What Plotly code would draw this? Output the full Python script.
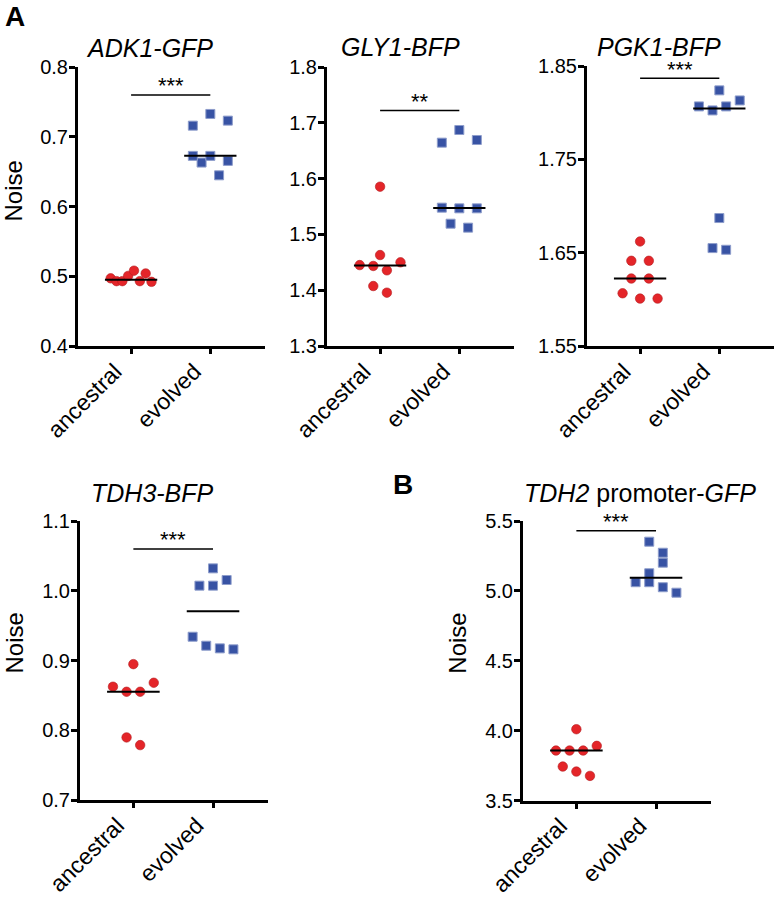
import numpy as np
import plotly.graph_objects as go

W, H = 777, 901
FONT = "Liberation Sans, Arial, Helvetica, sans-serif"

categories = ["ancestral", "evolved"]

# values, listed left-to-right within each horizontal row of the scatter
adk1_ancestral = [0.497, 0.493, 0.493, 0.5005, 0.508, 0.493, 0.504, 0.492]
adk1_evolved = [0.663, 0.6447, 0.6726, 0.6726, 0.6654, 0.7159, 0.7327, 0.7231]
gly1_ancestral = [1.4075, 1.3956, 1.445, 1.4434, 1.4356, 1.450, 1.463, 1.5855]
gly1_evolved = [1.5192, 1.5121, 1.5479, 1.5467, 1.5467, 1.6644, 1.6871, 1.6692]
pgk1_ancestral = [1.6065, 1.6008, 1.6008, 1.6223, 1.6223, 1.6413, 1.6413, 1.662]
pgk1_evolved = [1.6549, 1.6531, 1.6871, 1.8067, 1.8024, 1.8067, 1.8131, 1.8239]
tdh3_ancestral = [0.7897, 0.7787, 0.8624, 0.8552, 0.8552, 0.8681, 0.8948]
tdh3_evolved = [0.9341, 0.9212, 0.9174, 0.916, 1.0073, 1.0073, 1.0154, 1.0321]
tdh2_ancestral = [3.743, 3.707, 3.676, 3.8575, 3.8575, 3.8575, 3.891, 4.01]
tdh2_evolved = [5.062, 5.062, 5.026, 4.987, 5.126, 5.202, 5.352, 5.273]

adk1_ticks = [0.4, 0.5, 0.6, 0.7, 0.8]
gly1_ticks = [1.3, 1.4, 1.5, 1.6, 1.7, 1.8]
pgk1_ticks = [1.55, 1.65, 1.75, 1.85]
tdh3_ticks = [0.7, 0.8, 0.9, 1.0, 1.1]
tdh2_ticks = [3.5, 4.0, 4.5, 5.0, 5.5]

titles = ["<i>ADK1-GFP</i>", "<i>GLY1-BFP</i>", "<i>PGK1-BFP</i>",
          "<i>TDH3-BFP</i>", "<i>TDH2</i> promoter-<i>GFP</i>"]
stars = ["***", "**", "***", "***", "***"]

# layout config (pixel boxes of each plot area, significance bar level, text spots)
panels = [
    dict(anc=adk1_ancestral, evo=adk1_evolved, ticks=adk1_ticks, fmt=".1f",
         box=(78, 265, 67, 346), sig=0.76, title_xy=(149, 48), noise_xy=(12.5, 191)),
    dict(anc=gly1_ancestral, evo=gly1_evolved, ticks=gly1_ticks, fmt=".1f",
         box=(327, 514, 67, 346), sig=1.722, title_xy=(400, 47), noise_xy=None),
    dict(anc=pgk1_ancestral, evo=pgk1_evolved, ticks=pgk1_ticks, fmt=".2f",
         box=(587, 774, 66, 346), sig=1.837, title_xy=(659, 47), noise_xy=None),
    dict(anc=tdh3_ancestral, evo=tdh3_evolved, ticks=tdh3_ticks, fmt=".1f",
         box=(80, 268, 521, 800), sig=1.06, title_xy=(152.5, 493), noise_xy=(13.5, 643)),
    dict(anc=tdh2_ancestral, evo=tdh2_evolved, ticks=tdh2_ticks, fmt=".1f",
         box=(523, 711, 521, 800.5), sig=5.43, title_xy=(640, 493), noise_xy=(456.7, 643)),
]
letters = [("A", 15, 17), ("B", 403, 484)]

XR = [-0.67, 1.69]
RED, RED_EDGE = "#E42529", "#B41C20"
BLUE, BLUE_EDGE = "#3853A4", "#8E9DCB"


def px(x, y):
    return x / W, 1 - y / H


def swarm_offsets(values, ppu_y, ppu_x, row_px=13.5, max_step=17.5, span=40.8):
    v = np.asarray(values, dtype=float)
    order = np.argsort(v, kind="stable")
    rows, cur, start = [], [], None
    for i in order:
        if start is None or (v[i] - start) * ppu_y > row_px:
            if cur:
                rows.append(cur)
            cur, start = [i], v[i]
        else:
            cur.append(i)
    rows.append(cur)
    maxrow = max(len(r) for r in rows)
    step = max_step if maxrow < 2 else min(max_step, span / (maxrow - 1))
    off = np.zeros(len(v))
    for r in rows:
        r = sorted(r)
        k = len(r)
        for j, i in enumerate(r):
            off[i] = (j - (k - 1) / 2) * step / ppu_x
    return off


fig = go.Figure()
fig.update_layout(template="none")
shapes, annotations = [], []

for n, p in enumerate(panels, start=1):
    x0, x1, y0, y1 = p["box"]
    yr = [p["ticks"][0], p["ticks"][-1]]
    ppu_x = (x1 - x0) / (XR[1] - XR[0])
    ppu_y = (y1 - y0) / (yr[1] - yr[0])
    xa, ya = f"x{n}", f"y{n}"
    for ci, (vals, col, edge, sym, ew) in enumerate([
            (p["anc"], RED, RED_EDGE, "circle", 0.6),
            (p["evo"], BLUE, BLUE_EDGE, "square", 1.0)]):
        off = swarm_offsets(vals, ppu_y, ppu_x)
        fig.add_trace(go.Scatter(
            x=ci + off, y=vals, mode="markers", xaxis=xa, yaxis=ya,
            marker=dict(symbol=sym, size=9.5 if sym == "circle" else 9, color=col,
                        line=dict(color=edge, width=ew)),
            hoverinfo="skip", showlegend=False))
        med = float(np.median(vals))
        shapes.append(dict(type="line", xref=xa, yref=ya, x0=ci - 0.33, x1=ci + 0.33,
                           y0=med, y1=med, line=dict(color="black", width=2)))
    shapes.append(dict(type="line", xref=xa, yref=ya, x0=0, x1=1, y0=p["sig"], y1=p["sig"],
                       line=dict(color="black", width=1.5)))
    annotations.append(dict(x=0.5, y=p["sig"], xref=xa, yref=ya, text=stars[n - 1],
                            showarrow=False, yanchor="middle", yshift=9,
                            font=dict(size=22, color="black", family=FONT)))
    tx, ty = px(*p["title_xy"])
    annotations.append(dict(x=tx, y=ty, xref="paper", yref="paper", text=titles[n - 1],
                            showarrow=False, xanchor="center", yanchor="middle",
                            font=dict(size=25, color="black", family=FONT)))
    if p["noise_xy"]:
        nx, ny = px(*p["noise_xy"])
        annotations.append(dict(x=nx, y=ny, xref="paper", yref="paper", text="Noise",
                                textangle=-90, showarrow=False, xanchor="center",
                                yanchor="middle",
                                font=dict(size=24, color="black", family=FONT)))
    dx0, _ = px(x0, 0)
    dx1, _ = px(x1, 0)
    _, dy0 = px(0, y1)
    _, dy1 = px(0, y0)
    fig.layout[f"xaxis{n}"] = dict(
        domain=[dx0, dx1], anchor=ya, range=XR, showline=True, linecolor="black",
        linewidth=3, ticks="outside", ticklen=5, tickwidth=2.5, tickcolor="black",
        tickvals=[0, 1], ticktext=categories, tickangle=-45, showgrid=False,
        zeroline=False, tickfont=dict(size=23, color="black", family=FONT),
        ticklabelshift=-16, ticklabelstandoff=-5,
        fixedrange=True, automargin=False)
    fig.layout[f"yaxis{n}"] = dict(
        domain=[dy0, dy1], anchor=xa, range=yr, showline=True, linecolor="black",
        linewidth=3, ticks="outside", ticklen=6, tickwidth=2.5, tickcolor="black",
        tickvals=p["ticks"], tickformat=p["fmt"], showgrid=False, zeroline=False,
        tickfont=dict(size=20, color="black", family=FONT), ticklabelstandoff=-3,
        fixedrange=True, automargin=False)

for t, lx, ly in letters:
    ax_, ay_ = px(lx, ly)
    annotations.append(dict(x=ax_, y=ay_, xref="paper", yref="paper", text=f"<b>{t}</b>",
                            showarrow=False, xanchor="center", yanchor="middle",
                            font=dict(size=28, color="black", family=FONT)))

fig.update_layout(width=W, height=H, margin=dict(l=0, r=0, t=0, b=0, pad=0),
                  paper_bgcolor="white", plot_bgcolor="white", showlegend=False,
                  font=dict(family=FONT, color="black"),
                  shapes=shapes, annotations=annotations)

fig.write_html("out.html", config={"displayModeBar": False},
               post_script="document.body.style.margin='0';")
